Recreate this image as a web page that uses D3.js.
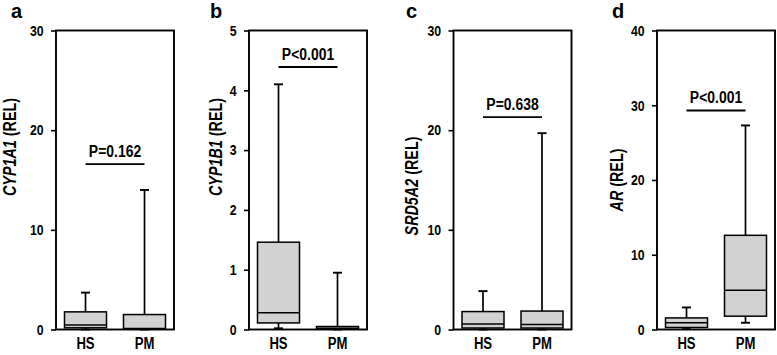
<!DOCTYPE html>
<html>
<head>
<meta charset="utf-8">
<script src="https://cdn.jsdelivr.net/npm/d3@7"></script>
<style>
  body { margin: 0; background: #fff; }
  svg { display: block; font-family: "Liberation Sans", Arial, sans-serif; }
  text { font-weight: bold; }
</style>
</head>
<body>
<div id="chart"></div>
<script>
// groups on the x axis
const groups = ['HS', 'PM'];

// panel letters, gene names, y domains and tick values
const panelLetters = ['a', 'b', 'c', 'd'];
const geneNames = ['CYP1A1', 'CYP1B1', 'SRD5A2', 'AR'];
const yMax = [30, 5, 30, 40];
const yTicks = [[0, 10, 20, 30], [0, 1, 2, 3, 4, 5], [0, 10, 20, 30], [0, 10, 20, 30, 40]];

// box stats per panel: [lower whisker, q1, median, q3, upper whisker]
const hsStats = [
  [0.0, 0.17, 0.45, 1.77, 3.7],
  [0.02, 0.11, 0.28, 1.46, 4.1],
  [0.0, 0.15, 0.55, 1.8, 3.85],
  [0.05, 0.27, 0.9, 1.55, 2.95]
];
const pmStats = [
  [0.0, 0.04, 0.1, 1.5, 14.0],
  [0.0, 0.01, 0.02, 0.05, 0.95],
  [0.0, 0.15, 0.5, 1.85, 19.7],
  [0.9, 1.78, 5.25, 12.6, 27.3]
];

// significance bracket height (data units) and p-value text
const sigLevel = [16.6, 4.39, 21.3, 29.3];
const pLabels = ['P=0.162', 'P<0.001', 'P=0.638', 'P<0.001'];

// layout
const width = 777, height = 355;
const axisLeft = [56, 249, 453.5, 657];
const plotW = 118;
const plotTop = 30.5, plotBottom = 329.5;
const titleOffset = [40, 27, 36, 34];
const titleCenter = [147, 147, 186, 180];
const letterX = [11, 210, 406, 612];
const squeeze = 0.82; // no Arial Narrow installed, so squash Liberation Sans Bold

const svg = d3.select('#chart').append('svg')
  .attr('width', width)
  .attr('height', height);

panelLetters.forEach((letter, i) => {
  const x0 = axisLeft[i];
  const g = svg.append('g').attr('transform', `translate(${x0},0)`);

  const y = d3.scaleLinear().domain([0, yMax[i]]).range([plotBottom, plotTop]);
  const x = d3.scalePoint().domain(groups).range([0, plotW]).padding(0.5);
  const boxW = 42;

  // frame
  g.append('rect')
    .attr('x', 0).attr('y', plotTop)
    .attr('width', plotW).attr('height', plotBottom - plotTop)
    .attr('fill', 'none').attr('stroke', '#000').attr('stroke-width', 1.9);

  // y axis
  const yAxis = g.append('g')
    .call(d3.axisLeft(y).tickValues(yTicks[i]).tickSize(5).tickPadding(10).tickFormat(d3.format('d')));
  yAxis.select('.domain').remove();
  yAxis.selectAll('.tick line').attr('stroke', '#000').attr('stroke-width', 1.6);
  yAxis.selectAll('.tick text')
    .attr('fill', '#000')
    .attr('font-size', 15)
    .attr('font-family', null)
    .attr('transform', `scale(${squeeze},1)`);

  // x labels
  g.selectAll('.xlab').data(groups).join('text')
    .attr('transform', d => `translate(${x(d)},349) scale(${squeeze},1)`)
    .attr('text-anchor', 'middle')
    .attr('font-size', 16)
    .text(d => d);

  // boxes
  const stats = [hsStats[i], pmStats[i]];
  stats.forEach((s, j) => {
    const cx = x(groups[j]);
    const [lo, q1, med, q3, hi] = s;
    const bx = g.append('g');
    // whiskers
    bx.append('line')
      .attr('x1', cx).attr('x2', cx)
      .attr('y1', y(q3)).attr('y2', y(hi))
      .attr('stroke', '#000').attr('stroke-width', 1.7);
    bx.append('line')
      .attr('x1', cx - 4.5).attr('x2', cx + 4.5)
      .attr('y1', y(hi)).attr('y2', y(hi))
      .attr('stroke', '#000').attr('stroke-width', 1.9);
    bx.append('line')
      .attr('x1', cx).attr('x2', cx)
      .attr('y1', y(q1)).attr('y2', y(lo))
      .attr('stroke', '#000').attr('stroke-width', 1.7);
    bx.append('line')
      .attr('x1', cx - 4.5).attr('x2', cx + 4.5)
      .attr('y1', y(lo)).attr('y2', y(lo))
      .attr('stroke', '#000').attr('stroke-width', 1.9);
    // box
    bx.append('rect')
      .attr('x', cx - boxW / 2).attr('width', boxW)
      .attr('y', y(q3)).attr('height', y(q1) - y(q3))
      .attr('fill', '#d2d2d2').attr('stroke', '#000').attr('stroke-width', 1.5);
    // median
    bx.append('line')
      .attr('x1', cx - boxW / 2).attr('x2', cx + boxW / 2)
      .attr('y1', y(med)).attr('y2', y(med))
      .attr('stroke', '#000').attr('stroke-width', 1.4);
  });

  // significance bar
  const sy = y(sigLevel[i]);
  g.append('line')
    .attr('x1', x('HS')).attr('x2', x('PM'))
    .attr('y1', sy).attr('y2', sy)
    .attr('stroke', '#000').attr('stroke-width', 1.8);
  g.append('text')
    .attr('transform', `translate(${(x('HS') + x('PM')) / 2},${sy - 7}) scale(${squeeze},1)`)
    .attr('text-anchor', 'middle')
    .attr('font-size', 17)
    .text(pLabels[i]);

  // y title
  const t = svg.append('text')
    .attr('transform', `translate(${x0 - titleOffset[i]},${titleCenter[i]}) rotate(-90) scale(${squeeze},1)`)
    .attr('text-anchor', 'middle')
    .attr('font-size', 17.5);
  t.append('tspan').attr('font-style', 'italic').text(geneNames[i]);
  t.append('tspan').text(' (REL)');

  // panel letter
  svg.append('text')
    .attr('x', letterX[i])
    .attr('y', 18)
    .attr('font-size', 20)
    .text(letter);
});
</script>
</body>
</html>
